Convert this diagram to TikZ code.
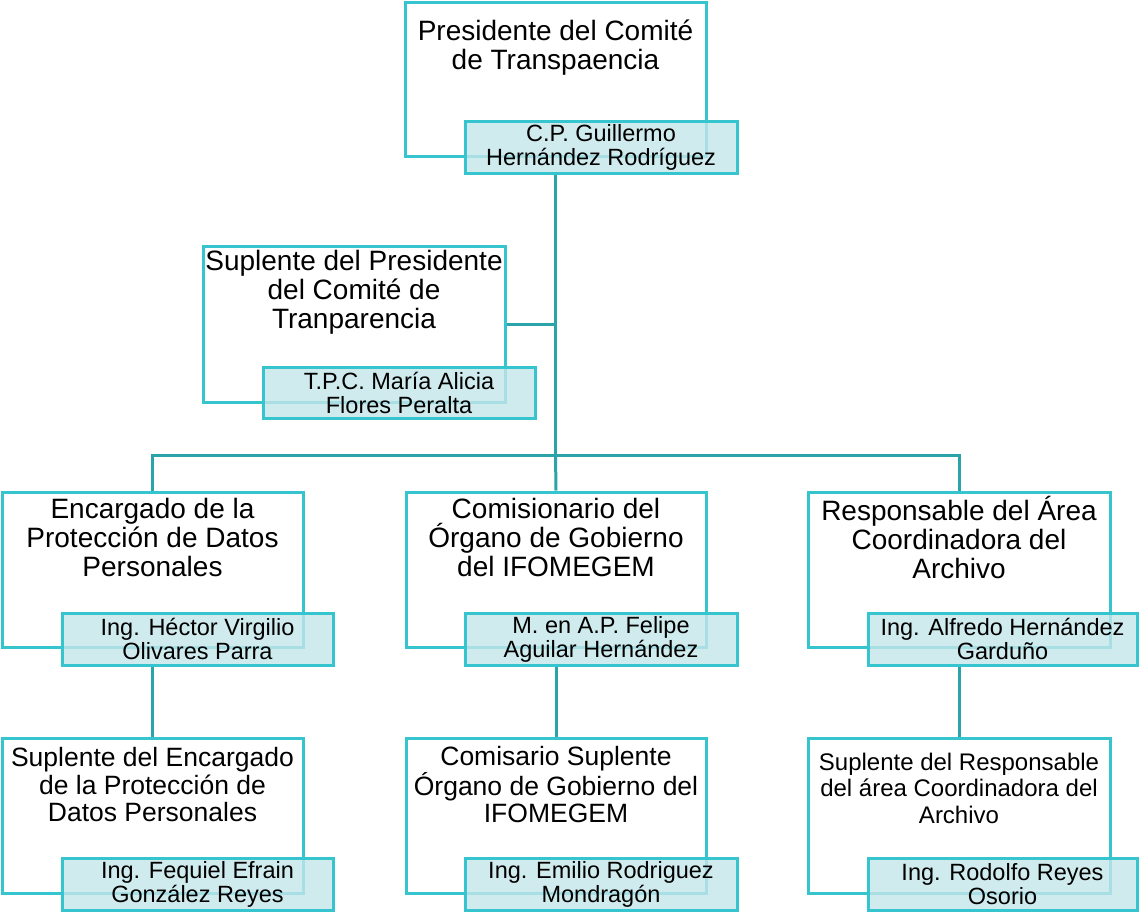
\documentclass[tikz,border=0pt]{standalone}
\usepackage{fontspec}
\setmainfont{Liberation Sans}
\definecolor{boxline}{HTML}{36C4CE}
\definecolor{connline}{HTML}{2AA3A9}
\definecolor{namefill}{HTML}{C4E6EA}
\begin{document}
\begin{tikzpicture}[x=1pt,y=-1pt,
  bigbox/.style={draw=boxline, line width=3pt, fill=white, inner sep=0pt, minimum width=301pt, minimum height=155pt},
  namebox/.style={draw=boxline, line width=3pt, fill=namefill, fill opacity=0.8, text opacity=1, inner sep=0pt, minimum height=52pt, align=center, font=\fontsize{23.5}{24}\selectfont},
  title/.style={align=center, inner sep=0pt, font=\fontsize{28}{29}\selectfont},
  titleb/.style={align=center, inner sep=0pt, font=\fontsize{26.5}{27.5}\selectfont},
  titlec/.style={align=center, inner sep=0pt, font=\fontsize{24}{26.5}\selectfont},
  conn/.style={draw=connline, line width=3pt}]
\useasboundingbox (0,0) rectangle (1140,913);
% big boxes
\node[bigbox, minimum height=154pt] (b0) at (555.5,79) {};
\node[bigbox, minimum width=302pt, minimum height=156pt] (b1) at (354,324) {};
\node[bigbox] (b2) at (152.5,569.5) {};
\node[bigbox, minimum width=300pt] (b3) at (556,569.5) {};
\node[bigbox, minimum width=302pt] (b4) at (959,569.5) {};
\node[bigbox] (b5) at (152.5,815.5) {};
\node[bigbox, minimum width=300pt] (b6) at (556,815.5) {};
\node[bigbox, minimum width=302pt] (b7) at (959,815.5) {};
% titles
\node[title] (t0) at (555.5,48) {Presidente del Comité\\de Transpaencia};
\node[title] (t1) at (354,292) {Suplente del Presidente\\del Comité de\\Tranparencia};
\node[title] (t2) at (152.5,537.5) {Encargado de la\\Protección de Datos\\Personales};
\node[title] (t3) at (556,537.5) {Comisionario del\\Órgano de Gobierno\\del IFOMEGEM};
\node[title] (t4) at (959,537.5) {Responsable del Área\\Coordinadora del\\Archivo};
\node[titleb] (t5) at (152.5,785) {Suplente del Encargado\\de la Protección de\\Datos Personales};
\node[titleb] (t6) at (556,785) {Comisario Suplente\\Órgano de Gobierno del\\IFOMEGEM};
\node[titlec] (t7) at (959,788) {Suplente del Responsable\\del área Coordinadora del\\Archivo};
% name boxes
\node[namebox, minimum width=272pt] (n0) at (601,147.5) {C.P. Guillermo\\Hernández Rodríguez};
\node[namebox, minimum width=272pt, minimum height=51pt] (n1) at (399,392.5) {T.P.C. María Alicia\\Flores Peralta};
\node[namebox, minimum width=271pt] (n2) at (197.5,639) {Ing. Héctor Virgilio\\Olivares Parra};
\node[namebox, minimum width=272pt] (n3) at (601,639) {M. en A.P. Felipe\\Aguilar Hernández};
\node[namebox, minimum width=269pt] (n4) at (1002.5,639) {Ing. Alfredo Hernández\\Garduño};
\node[namebox, minimum width=271pt] (n5) at (197.5,884) {Ing. Fequiel Efrain\\González Reyes};
\node[namebox, minimum width=272pt] (n6) at (601,884) {Ing. Emilio Rodriguez\\Mondragón};
\node[namebox, minimum width=269pt] (n7) at (1002.5,884) {Ing. Rodolfo Reyes\\Osorio};
% connectors
\coordinate (j) at (555.5,455);
\draw[conn] (n0.south -| b0.south) -- (j);
\draw[conn] (b1.east) -- (b1.east -| b0.south);
\draw[conn] (b2.north) -- (b2.north |- j) -- (b4.north |- j) -- (b4.north);
\draw[conn] (j) -- (b3.north);
\draw[conn] (n2.south -| b2.south) -- (b5.north);
\draw[conn] (n3.south -| b3.south) -- (b6.north);
\draw[conn] (n4.south -| b4.south) -- (b7.north);
\end{tikzpicture}
\end{document}
